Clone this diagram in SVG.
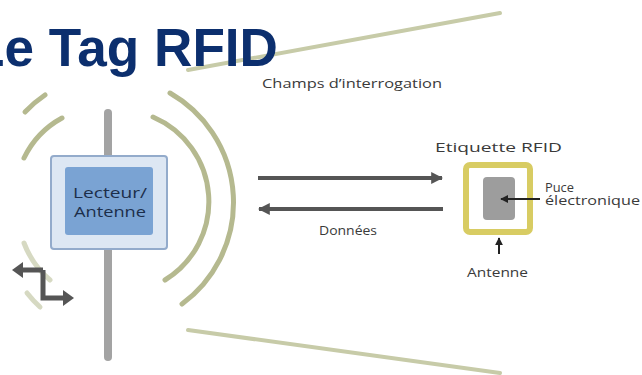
<svg xmlns="http://www.w3.org/2000/svg" width="642" height="375" viewBox="0 0 642 375">
  <defs>
    <marker id="ahGray" viewBox="0 0 10 10" refX="9" refY="5" markerWidth="3" markerHeight="3" orient="auto-start-reverse" markerUnits="strokeWidth">
      <path d="M0,0 L10,5 L0,10 Z" fill="#555555"/>
    </marker>
    <marker id="ahBlack" viewBox="0 0 10 10" refX="9" refY="5" markerWidth="4" markerHeight="4" orient="auto" markerUnits="strokeWidth">
      <path d="M0,0 L10,5 L0,10 Z" fill="#222"/>
    </marker>
    <style>
      .field { fill: none; stroke: #c7cba8; stroke-width: 4; stroke-linecap: round; }
      .wave { fill: none; stroke: #b5b98f; stroke-width: 5; stroke-linecap: round; }
      .lbl { font-family: "Open Sans", "DejaVu Sans", sans-serif; font-size: 13px; fill: #3a3a3a; }
      .small { font-size: 12px; }
      .flow { fill: none; stroke: #555555; stroke-width: 4; }
      .ptr { fill: none; stroke: #222; stroke-width: 2; }
      .rdr { font-family: "Open Sans", "DejaVu Sans", sans-serif; font-size: 15px; fill: #1c2e4a; }
    </style>
  </defs>
  <rect width="642" height="375" fill="#ffffff"/>

  <g id="field-lines">
    <line class="field" x1="188" y1="70" x2="500" y2="13"/>
    <line class="field" x1="188" y1="330" x2="500" y2="373"/>
  </g>

  <g id="title">
    <text x="-28" y="66" font-family="Liberation Sans, Arial, sans-serif" font-weight="bold" font-size="54" fill="#0c2f6e" textLength="306" lengthAdjust="spacingAndGlyphs">Le Tag RFID</text>
  </g>

  <g id="waves">
    <path class="wave" d="M153,117 A92 92 0 0 1 165,280"/>
    <path class="wave" d="M170,93 A126 126 0 0 1 182,304"/>
    <path class="wave" d="M24,158 A90 90 0 0 1 62,118"/>
    <path class="wave" d="M25,112 A117 117 0 0 1 45,95"/>
    <path class="wave" d="M50,280 A90 90 0 0 1 24,243" opacity="0.55"/>
    <path class="wave" d="M40,307 A117 117 0 0 1 27,293" opacity="0.55"/>
  </g>

  <g id="reader">
    <line x1="108" y1="113" x2="108" y2="357" stroke="#a3a3a3" stroke-width="8" stroke-linecap="round"/>
    <rect x="51" y="156" width="116" height="93" rx="3" fill="#dde7f3" stroke="#93abcb" stroke-width="2"/>
    <rect x="65" y="167" width="88" height="68" rx="3" fill="#7aa3d3"/>
    <text class="rdr" x="110" y="198" text-anchor="middle" textLength="74" lengthAdjust="spacingAndGlyphs">Lecteur/</text>
    <text class="rdr" x="110" y="217" text-anchor="middle" textLength="72" lengthAdjust="spacingAndGlyphs">Antenne</text>
  </g>

  <g id="zigzag">
    <path d="M43,270 L43,298 L66,298" fill="none" stroke="#555" stroke-width="5"/>
    <path d="M43,270 L20,270" fill="none" stroke="#555" stroke-width="5"/>
    <path d="M12,270 L23,262 L23,278 Z" fill="#555"/>
    <path d="M74,298 L63,290 L63,306 Z" fill="#555"/>
  </g>

  <g id="tag">
    <rect x="466" y="165" width="64" height="67" rx="4" fill="#ffffff" stroke="#d8cc63" stroke-width="6"/>
    <rect x="483" y="177" width="32" height="43" rx="4" fill="#9d9d9d"/>
  </g>

  <g id="connectors">
    <line class="flow" x1="258" y1="178" x2="442" y2="178" marker-end="url(#ahGray)"/>
    <line class="flow" x1="443" y1="209" x2="259" y2="209" marker-end="url(#ahGray)"/>
    <line class="ptr" x1="540" y1="199" x2="501" y2="199" marker-end="url(#ahBlack)"/>
    <line class="ptr" x1="499" y1="254" x2="499" y2="238" marker-end="url(#ahBlack)"/>
  </g>

  <g id="labels">
    <text class="lbl" x="262" y="88" textLength="180" lengthAdjust="spacingAndGlyphs">Champs d’interrogation</text>
    <text class="lbl" x="435" y="152" font-size="15" textLength="127" lengthAdjust="spacingAndGlyphs">Etiquette RFID</text>
    <text class="lbl small" x="545" y="192" textLength="29" lengthAdjust="spacingAndGlyphs">Puce</text>
    <text class="lbl small" x="545" y="205" textLength="95" lengthAdjust="spacingAndGlyphs">électronique</text>
    <text class="lbl" x="467" y="277" textLength="61" lengthAdjust="spacingAndGlyphs">Antenne</text>
    <text class="lbl" x="319" y="235" textLength="58" lengthAdjust="spacingAndGlyphs">Données</text>
  </g>
</svg>
